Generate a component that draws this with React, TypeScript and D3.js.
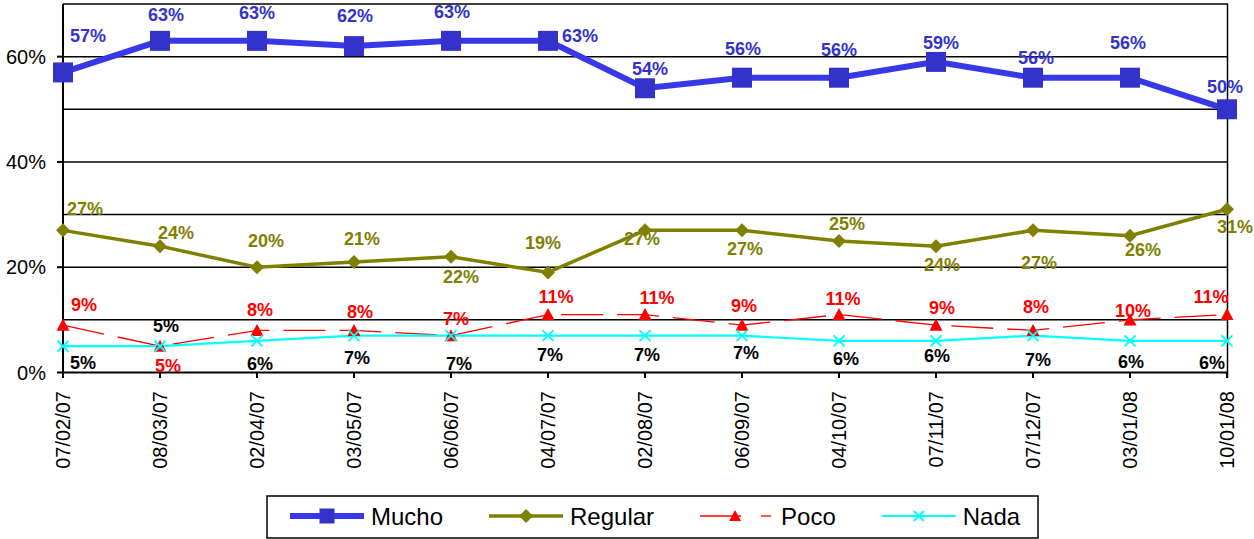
import React, { useMemo } from "react";
import * as d3 from "d3";

const dates = ["07/02/07", "08/03/07", "02/04/07", "03/05/07", "06/06/07", "04/07/07", "02/08/07", "06/09/07", "04/10/07", "07/11/07", "07/12/07", "03/01/08", "10/01/08"];
const mucho = [57, 63, 63, 62, 63, 63, 54, 56, 56, 59, 56, 56, 50];
const regular = [27, 24, 20, 21, 22, 19, 27, 27, 25, 24, 27, 26, 31];
const poco = [9, 5, 8, 8, 7, 11, 11, 9, 11, 9, 8, 10, 11];
const nada = [5, 5, 6, 7, 7, 7, 7, 7, 6, 6, 7, 6, 6];
const yTickLabels = [0, 20, 40, 60];
const gridValues = [10, 20, 30, 40, 50, 60, 70];

// label placement offsets (styling, relative to each point)
const muchoOff = [[25, -36], [6, -26], [0, -28], [1, -30], [1, -29], [32, -5], [5, -19], [1, -29], [0, -28], [5, -19], [3, -20], [-2, -35], [-2, -22]];
const regularOff = [[22, -21], [16, -13], [9, -26], [8, -23], [10, 20], [-5, -29], [-3, 9], [3, 19], [8, -17], [6, 19], [6, 33], [13, 14], [8, 18]];
const pocoOff = [[21, -20], [8, 20], [3, -20], [6, -18], [5, -17], [8, -18], [12, -17], [2, -19], [4, -16], [6, -17], [3, -23], [3, -9], [-16, -18]];
const nadaOff = [[20, 17], [6, -20], [3, 23], [3, 22], [8, 28], [2, 19], [2, 19], [4, 17], [7, 18], [1, 15], [5, 24], [1, 21], [-15, 22]];

const FONT = "'Liberation Sans', Arial, sans-serif";

type Series = {
  name: string;
  values: number[];
  line: string;
  fill: string;
  width: number;
  dash?: string;
  marker: "square" | "diamond" | "triangle" | "x";
  labelColor: string;
  off: number[][];
};

const series: Series[] = [
  { name: "Mucho", values: mucho, line: "#3838E8", fill: "#3333CC", width: 6, marker: "square", labelColor: "#3333CC", off: muchoOff },
  { name: "Regular", values: regular, line: "#808000", fill: "#808000", width: 3.5, marker: "diamond", labelColor: "#808000", off: regularOff },
  { name: "Poco", values: poco, line: "#FF0000", fill: "#FF0000", width: 1.3, dash: "42,14", marker: "triangle", labelColor: "#FF0000", off: pocoOff },
  { name: "Nada", values: nada, line: "#00FFFF", fill: "#00FFFF", width: 2.2, marker: "x", labelColor: "#000000", off: nadaOff },
];

function Marker({ type, cx, cy, color, size }: { type: string; cx: number; cy: number; color: string; size: number }) {
  const h = size / 2;
  if (type === "square") return <rect x={cx - h} y={cy - h} width={size} height={size} fill={color} />;
  if (type === "diamond")
    return <polygon points={`${cx},${cy - h} ${cx + h},${cy} ${cx},${cy + h} ${cx - h},${cy}`} fill={color} />;
  if (type === "triangle")
    return <polygon points={`${cx},${cy - h} ${cx + h},${cy + h * 0.85} ${cx - h},${cy + h * 0.85}`} fill={color} />;
  return (
    <g stroke={color} strokeWidth={2}>
      <line x1={cx - h} y1={cy - h} x2={cx + h} y2={cy + h} />
      <line x1={cx - h} y1={cy + h} x2={cx + h} y2={cy - h} />
    </g>
  );
}

export default function App() {
  const W = 1254, H = 539;
  const x = d3.scalePoint<string>().domain(dates).range([63, 1227]);
  const y = d3.scaleLinear().domain([0, 70]).range([372.5, 4]);
  const line = d3.line<number>().x((_, i) => x(dates[i])!).y((v) => y(v));

  const markerSize: Record<string, number> = { square: 20, diamond: 14, triangle: 13, x: 11 };
  const legendMarkerSize: Record<string, number> = { square: 15, diamond: 14, triangle: 12, x: 10 };

  const legend = useMemo(() => {
    const c = document.createElement("canvas").getContext("2d")!;
    c.font = `24px ${FONT}`;
    let cur = 290;
    return series.map((s) => {
      const w = c.measureText(s.name).width;
      const item = { s, x0: cur, x1: cur + 74, tx: cur + 81 };
      cur = item.tx + w + 46;
      return item;
    });
  }, []);

  const legY = 516;

  return (
    <div style={{ position: "absolute", left: 0, top: 0 }}>
      <svg width={W} height={H} style={{ display: "block", fontFamily: FONT }}>
        <rect width={W} height={H} fill="#fff" />
        {/* gridlines */}
        {gridValues.map((g) => (
          <line key={g} x1={63} x2={1228} y1={y(g)} y2={y(g)} stroke="#000" strokeWidth={1.5} />
        ))}
        {/* right border */}
        <line x1={1227.5} x2={1227.5} y1={y(70)} y2={378} stroke="#000" strokeWidth={1.5} />
        {/* y axis */}
        <line x1={63} x2={63} y1={y(70)} y2={378} stroke="#000" strokeWidth={2} />
        <line x1={63} x2={1228} y1={y(0)} y2={y(0)} stroke="#000" strokeWidth={2} />
        {yTickLabels.map((t) => (
          <g key={t}>
            <line x1={57} x2={63} y1={y(t)} y2={y(t)} stroke="#000" strokeWidth={2} />
            <text x={46} y={y(t)} textAnchor="end" dominantBaseline="central" fontSize={20} fill="#000">
              {t}%
            </text>
          </g>
        ))}
        {/* x ticks & labels */}
        {dates.map((d) => (
          <g key={d}>
            <line x1={x(d)} x2={x(d)} y1={y(0)} y2={378} stroke="#000" strokeWidth={2} />
            <text
              transform={`translate(${x(d)},391) rotate(-90)`}
              textAnchor="end"
              dominantBaseline="central"
              fontSize={20}
              fill="#000"
            >
              {d}
            </text>
          </g>
        ))}
        {/* series lines */}
        {series.map((s) => (
          <path key={s.name} d={line(s.values)!} fill="none" stroke={s.line} strokeWidth={s.width} strokeDasharray={s.dash} />
        ))}
        {/* markers */}
        {series.map((s) =>
          s.values.map((v, i) => (
            <Marker key={s.name + i} type={s.marker} cx={x(dates[i])!} cy={y(v)} color={s.fill} size={markerSize[s.marker]} />
          ))
        )}
        {/* data labels */}
        {series.map((s) =>
          s.values.map((v, i) => (
            <text
              key={"l" + s.name + i}
              x={x(dates[i])! + s.off[i][0]}
              y={y(v) + s.off[i][1]}
              textAnchor="middle"
              dominantBaseline="central"
              fontSize={18}
              fontWeight="bold"
              fill={s.labelColor}
            >
              {v}%
            </text>
          ))
        )}
        {/* legend */}
        <rect x={267} y={496} width={771} height={42} fill="#fff" stroke="#000" strokeWidth={1.5} />
        {legend.map(({ s, x0, x1, tx }) => (
          <g key={"lg" + s.name}>
            {s.dash ? (
              <>
                <line x1={x0} x2={x0 + 41} y1={legY} y2={legY} stroke={s.line} strokeWidth={s.width} />
                <line x1={x0 + 61} x2={x0 + 71} y1={legY} y2={legY} stroke={s.line} strokeWidth={s.width} />
              </>
            ) : (
              <line x1={x0} x2={x1} y1={legY} y2={legY} stroke={s.line} strokeWidth={s.width} />
            )}
            <Marker
              type={s.marker}
              cx={s.dash ? x0 + 35 : (x0 + x1) / 2}
              cy={legY}
              color={s.fill}
              size={legendMarkerSize[s.marker]}
            />
            <text x={tx} y={legY} dominantBaseline="central" fontSize={24} fill="#000">
              {s.name}
            </text>
          </g>
        ))}
      </svg>
    </div>
  );
}
